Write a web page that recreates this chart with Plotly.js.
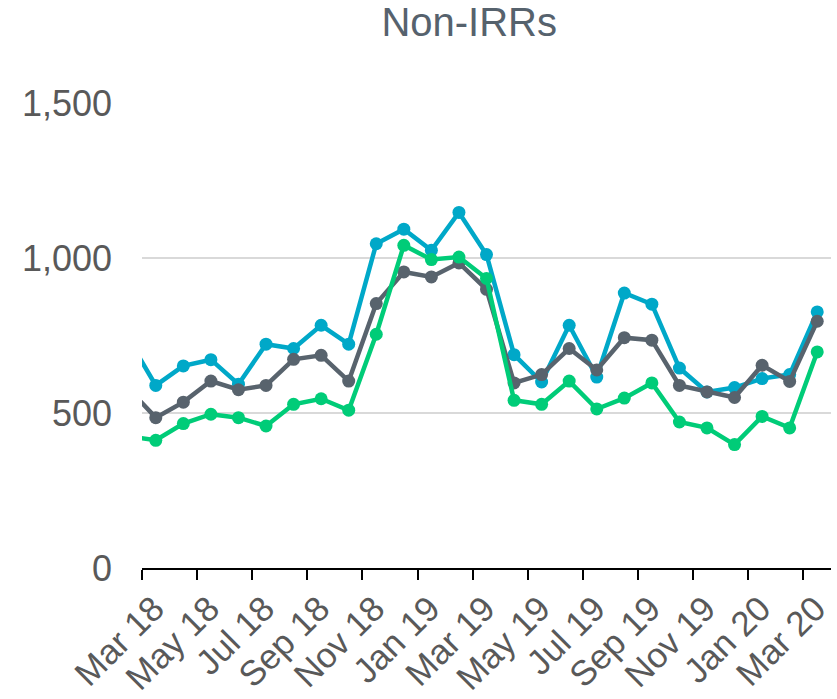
<!DOCTYPE html>
<html>
<head>
<meta charset="utf-8">
<script src="https://cdn.plot.ly/plotly-3.0.1.min.js"></script>
<style>
  html, body { margin: 0; padding: 0; background: #ffffff; }
  #chart { width: 837px; height: 699px; }
</style>
</head>
<body>
<div id="chart"></div>
<script>
// Months (first one, Feb 18, falls just outside the visible axis range)
const months = ['Feb 18','Mar 18','Apr 18','May 18','Jun 18','Jul 18','Aug 18','Sep 18','Oct 18','Nov 18','Dec 18',
  'Jan 19','Feb 19','Mar 19','Apr 19','May 19','Jun 19','Jul 19','Aug 19','Sep 19','Oct 19','Nov 19','Dec 19',
  'Jan 20','Feb 20','Mar 20'];

const seriesBlue  = [740, 589, 652, 672, 593, 722, 708, 783, 722, 1046, 1093, 1025, 1147, 1011, 688, 600, 783, 616, 887, 851, 645, 568, 582, 611, 624, 826];
const seriesGray  = [580, 485, 535, 603, 575, 589, 673, 686, 603, 853, 955, 939, 984, 899, 597, 624, 708, 639, 743, 735, 589, 568, 550, 654, 602, 796];
const seriesGreen = [425, 412, 466, 496, 485, 458, 528, 546, 509, 754, 1041, 995, 1003, 934, 541, 528, 603, 513, 548, 597, 471, 452, 398, 489, 452, 697];

const tickLabels = ['Mar 18','May 18','Jul 18','Sep 18','Nov 18','Jan 19','Mar 19','May 19','Jul 19','Sep 19','Nov 19','Jan 20','Mar 20'];
const yTicks = [0, 500, 1000, 1500];

// positions: Mar 18 = 0
const xPos = months.map((m, i) => i - 1);
const tickPos = tickLabels.map(t => months.indexOf(t) - 1 - 0.5);

function trace(vals, color) {
  return {
    x: xPos, y: vals, type: 'scatter', mode: 'lines+markers',
    line: { color: color, width: 4.5 },
    marker: { color: color, size: 13 },
    cliponaxis: true, hoverinfo: 'skip', showlegend: false
  };
}

const data = [
  trace(seriesBlue, '#00A8C8'),
  trace(seriesGray, '#58636D'),
  trace(seriesGreen, '#00CC78')
];

const fontFam = '"Liberation Sans", Arial, sans-serif';

const layout = {
  width: 837, height: 699,
  margin: { l: 142, r: 6, t: 103, b: 131, pad: 0 },
  paper_bgcolor: '#ffffff', plot_bgcolor: '#ffffff',
  title: {
    text: 'Non-IRRs',
    font: { family: fontFam, size: 40, color: '#56626D' },
    xref: 'container', yref: 'container',
    x: 0.5606, xanchor: 'center',
    y: 0.969, yanchor: 'middle'
  },
  xaxis: {
    range: [-0.5, 24.5],
    tickvals: tickPos, ticktext: tickLabels,
    tickangle: -45,
    ticks: 'outside', ticklen: 10, tickwidth: 2, tickcolor: '#000000',
    showline: true, linecolor: '#000000', linewidth: 2,
    showgrid: false, zeroline: false,
    tickfont: { family: fontFam, size: 35, color: '#595959' },
    ticklabelshift: 12, ticklabelstandoff: -6,
    automargin: false, fixedrange: true
  },
  yaxis: {
    range: [0, 1500],
    tickvals: yTicks, tickformat: ',',
    ticks: '', showline: false, zeroline: false,
    showgrid: true, gridcolor: '#D9D9D9', gridwidth: 2,
    tickfont: { family: fontFam, size: 36, color: '#595959' },
    ticklabelstandoff: 29,
    automargin: false, fixedrange: true
  }
};

Plotly.newPlot('chart', data, layout, { displayModeBar: false, staticPlot: true });
</script>
</body>
</html>
